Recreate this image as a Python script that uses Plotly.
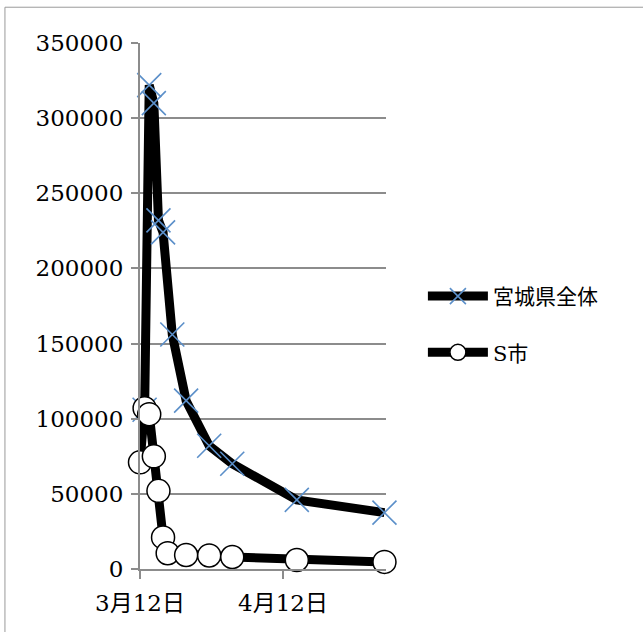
import plotly.graph_objects as go

# 宮城県全体
miyagi_dates = ["2011-03-13", "2011-03-14", "2011-03-15", "2011-03-16", "2011-03-17",
                "2011-03-19", "2011-03-22", "2011-03-27", "2011-04-01", "2011-04-15", "2011-05-04"]
miyagi_vals = [106000, 322000, 310000, 232000, 224000, 156000, 112000, 82000, 70000, 46000, 37500]

# S市
s_dates = ["2011-03-12", "2011-03-13", "2011-03-14", "2011-03-15", "2011-03-16", "2011-03-17",
           "2011-03-18", "2011-03-22", "2011-03-27", "2011-04-01", "2011-04-15", "2011-05-04"]
s_vals = [71000, 107000, 103000, 75000, 52000, 21000, 10500, 9300, 9000, 8000, 6000, 4700]

series_names = ["宮城県全体", "S市"]
y_ticks = [0, 50000, 100000, 150000, 200000, 250000, 300000, 350000]

FONT = "DejaVu Serif, Noto Sans CJK JP, serif"

fig = go.Figure()
fig.add_trace(go.Scatter(
    x=miyagi_dates, y=miyagi_vals, name=series_names[0], mode="lines+markers",
    line=dict(color="black", width=9),
    marker=dict(symbol="x-thin-open", size=24, color="#5b8fc9",
                line=dict(color="#5b8fc9", width=1.6)),
    legendgroup="a", cliponaxis=False,
))
fig.add_trace(go.Scatter(
    x=s_dates, y=s_vals, name=series_names[1], mode="lines+markers",
    line=dict(color="black", width=9),
    marker=dict(symbol="circle", size=23, color="white", line=dict(color="black", width=1.5)),
    legendgroup="b", cliponaxis=False,
))

fig.update_layout(
    width=643, height=632,
    margin=dict(l=140, r=257, t=43, b=63),
    paper_bgcolor="white", plot_bgcolor="white",
    font=dict(family=FONT, size=23, color="black"),
    showlegend=True,
    legend=dict(x=1.15, y=0.465, xanchor="left", yanchor="middle",
                font=dict(size=21, family=FONT), itemwidth=60, traceorder="grouped",
                tracegroupgap=26, bgcolor="rgba(0,0,0,0)"),
    xaxis=dict(
        type="date", range=["2011-03-12", "2011-05-04 08:00"],
        tick0="2011-03-12", dtick="M1", tickformat="%-m月%d日",
        showgrid=False, showline=True, linecolor="#8c8c8c", linewidth=2,
        ticks="outside", ticklen=8, tickcolor="#8c8c8c", tickwidth=2,
        tickfont=dict(size=23, family=FONT), ticklabelstandoff=4,
        zeroline=False,
    ),
    yaxis=dict(
        range=[0, 350000], tickvals=y_ticks, ticktext=[str(v) for v in y_ticks],
        showgrid=True, gridcolor="#8c8c8c", gridwidth=1.5,
        showline=True, linecolor="#8c8c8c", linewidth=2,
        ticks="outside", ticklen=7, tickcolor="#8c8c8c", tickwidth=2,
        tickfont=dict(size=23, family=FONT), ticklabelstandoff=3,
        zeroline=False,
    ),
    shapes=[dict(type="rect", xref="paper", yref="paper",
                 x0=-0.549, x1=2.3, y0=-0.2, y1=1.068,
                 line=dict(color="#9a9a9a", width=1), fillcolor="rgba(0,0,0,0)")],
)

fig.write_html("out.html")
